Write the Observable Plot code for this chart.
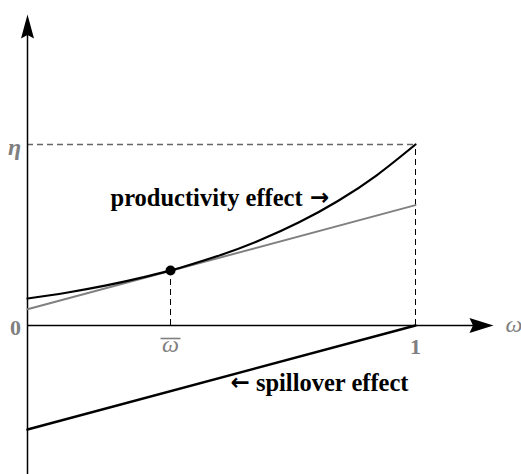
<!DOCTYPE html>
<html>
<head>
<meta charset="utf-8">
<script src="https://cdn.jsdelivr.net/npm/d3@7"></script>
<script src="https://cdn.jsdelivr.net/npm/@observablehq/plot@0.6"></script>
<style>
  html, body { margin: 0; padding: 0; background: #fff; }
</style>
</head>
<body>
<div id="chart"></div>
<script>
// ---- data (η = 1 on the y scale) ----
const omega = [0, 0.1, 0.2, 0.3, 0.3686, 0.4, 0.5, 0.6, 0.7, 0.8, 0.9, 1];
const productivity = [0.149, 0.181, 0.220, 0.267, 0.304, 0.323, 0.391, 0.472, 0.570, 0.688, 0.830, 1.0];
const tangentX = [0, 1];
const tangentY = [0.09, 0.665];
const spilloverX = [0, 1];
const spilloverY = [-0.575, 0];
const omegaBar = 0.3686;
const omegaBarValue = 0.304;
const eta = 1;
const xAxisEnd = 1.201;   // arrow tip of the ω axis
const yAxisTop = 1.718;   // arrow tip of the vertical axis
const yAxisBottom = -0.83;
const labels = {
  productivity: "productivity effect",
  spillover: "spillover effect",
  rightArrow: "\u2192", leftArrow: "\u2190",
  zero: "0", one: "1", eta: "\u03b7", omegaBar: "\u03c9", omega: "\u03c9"
};

const curve = omega.map((x, i) => ({x, y: productivity[i]}));
const tangent = tangentX.map((x, i) => ({x, y: tangentY[i]}));
const spill = spilloverX.map((x, i) => ({x, y: spilloverY[i]}));

const arrowUp = {draw(ctx) { ctx.moveTo(0, 0); ctx.lineTo(6.5, 24); ctx.lineTo(0, 20.5); ctx.lineTo(-6.5, 24); ctx.closePath(); }};
const arrowRight = {draw(ctx) { ctx.moveTo(0, 0); ctx.lineTo(-24, -7.5); ctx.lineTo(-20.5, 0); ctx.lineTo(-24, 7.5); ctx.closePath(); }};
const overBar = {draw(ctx) { ctx.rect(-10, -0.8, 20, 1.6); }};

const gray = "#7f7f7f";
const serif = "Liberation Serif, Times New Roman, serif";
const arrowFont = "DejaVu Sans, sans-serif";

const chart = Plot.plot({
  width: 521,
  height: 474,
  margin: 0,
  style: {fontFamily: serif, background: "#fff", overflow: "visible"},
  x: {domain: [0, 1], range: [27, 415], axis: null},
  y: {domain: [0, 1], range: [325, 144], axis: null},
  marks: [
    // dashed guides
    Plot.ruleY([eta], {x1: 0, x2: 1, stroke: "#666", strokeWidth: 1.3, strokeDasharray: "6,4"}),
    Plot.ruleX([1], {y1: 0, y2: eta, stroke: "#000", strokeWidth: 1, strokeDasharray: "6,4"}),
    Plot.ruleX([omegaBar], {y1: 0, y2: omegaBarValue, stroke: "#000", strokeWidth: 1, strokeDasharray: "6,4"}),
    // axes
    Plot.ruleX([0], {y1: yAxisBottom, y2: yAxisTop - 0.08, stroke: "#000", strokeWidth: 1.5}),
    Plot.ruleY([0], {x1: 0, x2: xAxisEnd - 0.03, stroke: "#000", strokeWidth: 1.5}),
    Plot.dot([{x: 0, y: yAxisTop}], {x: "x", y: "y", symbol: arrowUp, fill: "#000", stroke: "none"}),
    Plot.dot([{x: xAxisEnd, y: 0}], {x: "x", y: "y", symbol: arrowRight, fill: "#000", stroke: "none"}),
    // lines
    Plot.line(tangent, {x: "x", y: "y", stroke: "#808080", strokeWidth: 2}),
    Plot.line(curve, {x: "x", y: "y", stroke: "#000", strokeWidth: 2.2, curve: "natural"}),
    Plot.line(spill, {x: "x", y: "y", stroke: "#000", strokeWidth: 2.5}),
    Plot.dot([{x: omegaBar, y: omegaBarValue}], {x: "x", y: "y", r: 5, fill: "#000", stroke: "none"}),
    // annotations
    Plot.text([labels.productivity], {x: 0.214, y: 0.705, text: d => d, textAnchor: "start", fontSize: 24.5, fontWeight: "bold", fill: "#000"}),
    Plot.text([labels.rightArrow], {x: 0.753, y: 0.705, text: d => d, textAnchor: "middle", fontSize: 23, fontWeight: "bold", fill: "#000", fontFamily: arrowFont}),
    Plot.text([labels.spillover], {x: 0.982, y: -0.317, text: d => d, textAnchor: "end", fontSize: 24.5, fontWeight: "bold", fill: "#000"}),
    Plot.text([labels.leftArrow], {x: 0.548, y: -0.317, text: d => d, textAnchor: "middle", fontSize: 23, fontWeight: "bold", fill: "#000", fontFamily: arrowFont}),
    // tick labels
    Plot.text([labels.zero], {x: 0, y: 0, text: d => d, dx: -12, dy: 2, fontSize: 22, fontWeight: "bold", fill: gray}),
    Plot.text([labels.one], {x: 1, y: 0, text: d => d, dy: 21, fontSize: 22, fontWeight: "bold", fill: gray}),
    Plot.text([labels.eta], {x: 0, y: eta, text: d => d, dx: -13, dy: 3, fontSize: 24, fontStyle: "italic", fontWeight: "bold", fill: gray}),
    Plot.text([labels.omegaBar], {x: omegaBar, y: 0, text: d => d, dy: 19, fontSize: 24, fontStyle: "italic", fill: gray}),
    Plot.dot([{x: omegaBar, y: 0}], {x: "x", y: "y", dy: 13, symbol: overBar, fill: gray, stroke: "none"}),
    Plot.text([labels.omega], {x: xAxisEnd, y: 0, text: d => d, dx: 12, dy: -1, textAnchor: "start", fontSize: 24, fontStyle: "italic", fill: gray})
  ]
});
document.getElementById("chart").appendChild(chart);
</script>
</body>
</html>
